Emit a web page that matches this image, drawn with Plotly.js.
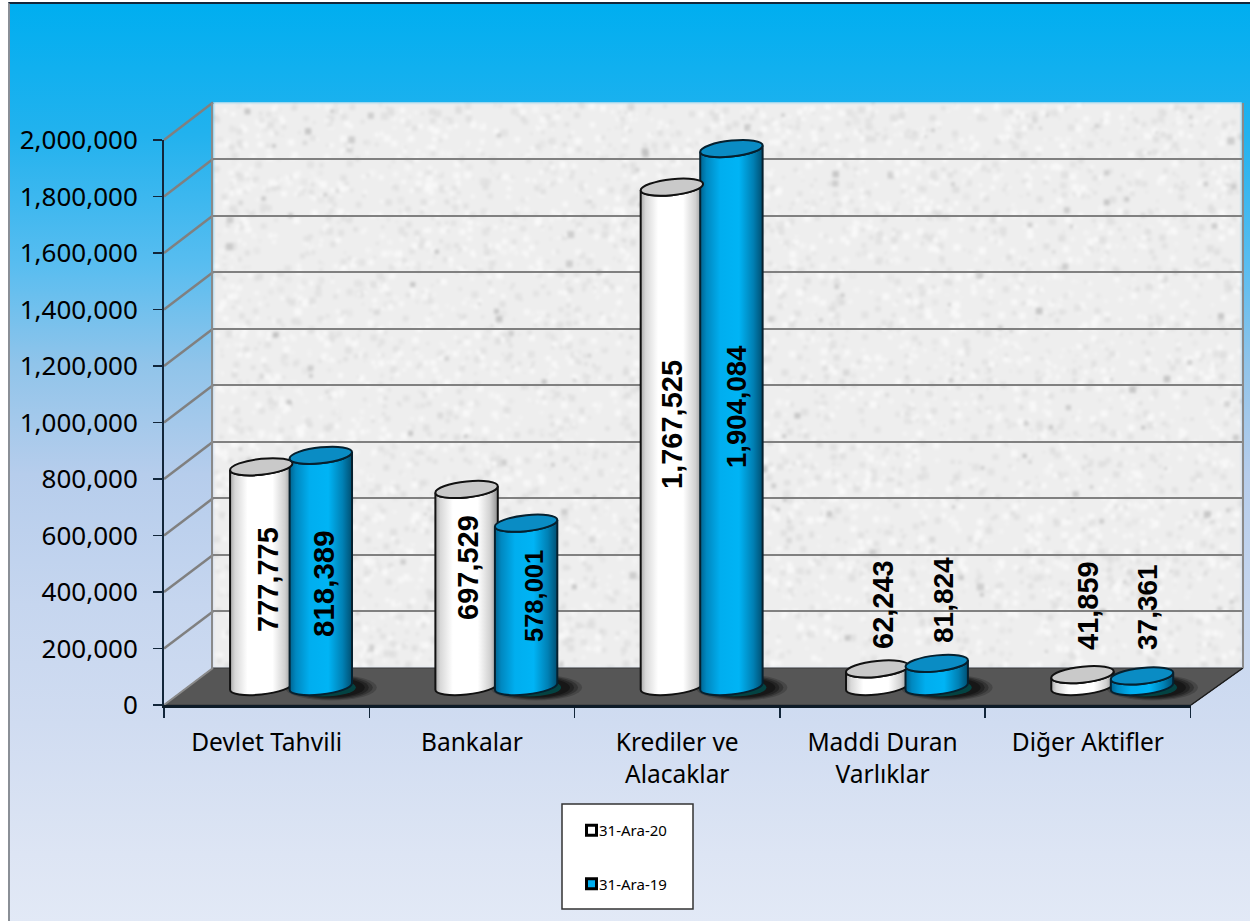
<!DOCTYPE html>
<html>
<head>
<meta charset="utf-8">
<script src="https://cdn.plot.ly/plotly-3.0.1.min.js"></script>
<style>
html,body{margin:0;padding:0;background:#fff;width:1250px;height:921px;overflow:hidden}
#frame{position:absolute;left:8px;top:2px;width:1242px;height:919px;box-sizing:border-box;border-left:2px solid #8a8f96;border-top:2px solid #12263a;
background:linear-gradient(to bottom,#00aef0 0px,#22b2ee 130px,#58bdf0 260px,#90c4ea 360px,#b6cdec 470px,#c6d6ef 600px,#d0dcf1 720px,#dde5f4 850px,#e2e9f6 919px)}
#chart{position:absolute;left:0;top:0;width:1250px;height:921px}
</style>
</head>
<body>
<div id="frame"></div>
<div id="chart"></div>
<script>
// ---- data ----
const categories = ['Devlet Tahvili','Bankalar','Krediler ve<br>Alacaklar','Maddi Duran<br>Varlıklar','Diğer Aktifler'];
const seriesNames = ['31-Ara-20','31-Ara-19'];
const values2020 = [777775,697529,1767525,62243,41859];
const values2019 = [818389,578001,1904084,81824,37361];
// label centres on the page (px), same order as the values; and label font sizes
const labelX2020 = [268,468,672,883,1088];
const labelY2020 = [580,568,425,605,606];
const labelSize2020 = [29,29,29,29,29];
const labelX2019 = [323,534,736,943,1147];
const labelY2019 = [584,596,407,600,607];
const labelSize2019 = [29.5,25.5,27.5,28,28];

const W=1250,H=921;
const px=x=>x/W, py=y=>1-y/H;
const UNIT=565/2000000;            // px per value unit
const dv=p=>p/UNIT;                // px -> value units
const CAT=205.3;                   // px per category
const dc=p=>p/CAT;                 // px -> category units
const BARW=0.304;                  // bar width in category units (the pair overlaps slightly)
const OFF20=-0.297, OFF19=-0.007;  // bar left edge relative to the category centre
const C20=OFF20+BARW/2, C19=OFF19+BARW/2;
const TILT=3.2, MINOR=8;
const BELOW=20;                    // px of room under the bars' baseline for their round bottoms

const fontAxis='"Noto Sans", sans-serif';
const fontLabel='"Liberation Sans", Arial, sans-serif';

// ---- texture for the back wall ----
function wallTexture(){
  const c=document.createElement('canvas');c.width=1029;c.height=566;
  const g=c.getContext('2d');
  g.fillStyle='#eeeeee';g.fillRect(0,0,c.width,c.height);
  let s=12345;const r=()=>{s=(s*1103515245+12345)&0x7fffffff;return s/0x7fffffff;};
  for(let i=0;i<14000;i++){
    const x=r()*c.width,y=r()*c.height,q=r();
    g.fillStyle=q<0.5?'rgba(250,250,250,0.5)':(q<0.97?'rgba(222,222,222,0.45)':'rgba(190,190,190,0.45)');
    const d=2+r()*5;
    g.fillRect(x,y,d,d);
  }
  const o=document.createElement('canvas');o.width=c.width;o.height=c.height;
  const h=o.getContext('2d');
  h.filter='blur(1.6px)';
  h.drawImage(c,0,0);
  return o.toDataURL('image/png');
}

// ---- sheared ellipse as a path in the bars' own data coordinates ----
function discPath(cx,v){
  const a=BARW/2,t=dv(TILT),b=dv(MINOR),k=0.5523;
  const P=(u,w)=>`${cx+u*a} ${v+u*t-w*b}`;   // u along major, w along minor (screen down)
  return `M ${P(-1,0)} C ${P(-1,-k)} ${P(-k,-1)} ${P(0,-1)} C ${P(k,-1)} ${P(1,-k)} ${P(1,0)} C ${P(1,k)} ${P(k,1)} ${P(0,1)} C ${P(-k,1)} ${P(-1,k)} ${P(-1,0)} Z`;
}

const shapes=[];
// floor
shapes.push({type:'path',xref:'paper',yref:'paper',layer:'below',
  path:`M ${px(164)} ${py(705)} L ${px(213)} ${py(668)} L ${px(1243)} ${py(668)} L ${px(1191)} ${py(705)} Z`,
  fillcolor:'#565656',line:{color:'#3a3a3a',width:1}});
shapes.push({type:'line',xref:'paper',yref:'paper',layer:'below',x0:px(1191),y0:py(705),x1:px(1243),y1:py(668),line:{color:'#1c1c1c',width:1.5}});
shapes.push({type:'line',xref:'paper',yref:'paper',layer:'below',x0:px(164),y0:py(705),x1:px(213),y1:py(668),line:{color:'#8a8a8a',width:2}});
// slanted side-wall lines
for(let v=200000;v<=2000000;v+=200000){
  shapes.push({type:'line',xref:'paper',yref:'paper',layer:'below',
    x0:px(164),y0:py(705-v*UNIT),x1:px(213),y1:py(668-v*565.5/2000000),line:{color:'#808080',width:2.5}});
}
// legend box
shapes.push({type:'rect',xref:'paper',yref:'paper',layer:'below',x0:px(562),x1:px(693),y0:py(804),y1:py(909),fillcolor:'#ffffff',line:{color:'#333333',width:1.5}});
// shadows on the floor, under the blue cylinders
categories.forEach((c,i)=>{
  const cx=i+C19;
  [[46,13,'rgba(0,0,0,0.18)'],[42,12,'rgba(0,0,0,0.25)'],[38,11,'rgba(0,0,0,0.3)'],[34,10,'rgba(0,0,0,0.35)'],[33,9,'rgba(0,75,75,0.85)']].forEach(([rx,ry,col],n)=>{
    const off=n===4?2:10;
    shapes.push({type:'circle',xref:'x3',yref:'y3',layer:'below',
      x0:cx+dc(off-rx),x1:cx+dc(off+rx),y0:dv(-1-ry),y1:dv(-1+ry),fillcolor:col,line:{width:0}});
  });
});
// cylinder tops
categories.forEach((c,i)=>{
  shapes.push({type:'path',xref:'x3',yref:'y3',layer:'above',path:discPath(i+C20,values2020[i]),fillcolor:'#c9c9c9',line:{color:'#111',width:2}});
  shapes.push({type:'path',xref:'x3',yref:'y3',layer:'above',path:discPath(i+C19,values2019[i]),fillcolor:'#0a8cc4',line:{color:'#06202e',width:2}});
});

// data labels
const fmt=v=>v.toLocaleString('en-US');
const annotations=[];
values2020.forEach((v,i)=>annotations.push({text:'<b>'+fmt(v)+'</b>',xref:'paper',yref:'paper',x:px(labelX2020[i]),y:py(labelY2020[i]),xanchor:'center',yanchor:'middle',textangle:-90,showarrow:false,font:{family:fontLabel,size:labelSize2020[i],color:'#000'}}));
values2019.forEach((v,i)=>annotations.push({text:'<b>'+fmt(v)+'</b>',xref:'paper',yref:'paper',x:px(labelX2019[i]),y:py(labelY2019[i]),xanchor:'center',yanchor:'middle',textangle:-90,showarrow:false,font:{family:fontLabel,size:labelSize2019[i],color:'#000'}}));

const traces=[
  // back wall subplot
  {x:[0,1],y:[0,2000000],xaxis:'x',yaxis:'y',mode:'none',type:'scatter',showlegend:false,hoverinfo:'skip'},
  // front axes subplot
  {x:categories,y:values2020,xaxis:'x2',yaxis:'y2',mode:'none',type:'scatter',showlegend:false,hoverinfo:'skip'},
  // cylinders
  {type:'bar',name:seriesNames[0],legendgroup:'a',x:categories,y:values2020,width:BARW,offset:OFF20,xaxis:'x3',yaxis:'y3',marker:{color:'#ffffff',line:{color:'#111',width:2}}},
  {type:'bar',name:seriesNames[1],legendgroup:'b',x:categories,y:values2019,width:BARW,offset:OFF19,xaxis:'x3',yaxis:'y3',marker:{color:'#00aeef',line:{color:'#06202e',width:2}}}
];

const layout={
  width:W,height:H,margin:{l:0,r:0,t:0,b:0},paper_bgcolor:'rgba(0,0,0,0)',plot_bgcolor:'rgba(0,0,0,0)',
  barmode:'group',
  font:{family:fontAxis,color:'#000'},
  xaxis:{domain:[px(213),px(1242)],range:[0,1],anchor:'y',showgrid:false,zeroline:false,showticklabels:false,ticks:''},
  yaxis:{domain:[py(668),py(102.5)],range:[0,2000000],anchor:'x',dtick:200000,showgrid:true,gridcolor:'#808080',gridwidth:2,zeroline:false,
    showticklabels:false,ticks:'',showline:true,mirror:true,linecolor:'#8a8a8a',linewidth:2},
  xaxis2:{domain:[px(164),px(1190.5)],anchor:'y2',type:'category',range:[-0.5,4.5],tickson:'boundaries',ticks:'outside',ticklen:10,tickwidth:1.5,tickcolor:'#12263a',
    showline:true,linecolor:'#0d1b28',linewidth:2.5,showgrid:false,zeroline:false,tickangle:0,ticklabelstandoff:14,tickfont:{family:fontAxis,size:24.5,color:'#000'}},
  yaxis2:{domain:[py(705),py(140)],range:[0,2000000],anchor:'x2',dtick:200000,tickformat:',d',ticks:'outside',ticklen:9,tickwidth:1.5,tickcolor:'#12263a',
    showline:true,linecolor:'#12263a',linewidth:2,showgrid:false,zeroline:false,ticklabelstandoff:10,tickfont:{family:fontAxis,size:26,color:'#000'}},
  xaxis3:{domain:[px(188.4),px(1214.9)],anchor:'y3',type:'category',range:[-0.5,4.5],visible:false},
  yaxis3:{domain:[py(686.5+BELOW),py(121.5)],range:[-dv(BELOW),2000000],anchor:'x3',visible:false},
  legend:{x:px(571.5),y:py(814),xanchor:'left',yanchor:'top',bgcolor:'rgba(0,0,0,0)',borderwidth:0,tracegroupgap:31,font:{family:fontAxis,size:15,color:'#000'}},
  images:[{source:wallTexture(),xref:'paper',yref:'paper',x:px(213),y:py(102),sizex:1029/W,sizey:566/H,sizing:'stretch',layer:'below',xanchor:'left',yanchor:'top'}],
  shapes:shapes,annotations:annotations
};

Plotly.newPlot('chart',traces,layout,{staticPlot:true,displayModeBar:false}).then(gd=>{
  const NS='http://www.w3.org/2000/svg';
  const svg=gd.querySelector('svg.main-svg');
  const defs=document.createElementNS(NS,'defs');
  const addGrad=(id,stops)=>{
    const g=document.createElementNS(NS,'linearGradient');
    g.setAttribute('id',id);g.setAttribute('x1','0');g.setAttribute('x2','1');g.setAttribute('y1','0');g.setAttribute('y2','0');
    stops.forEach(([o,c])=>{const s=document.createElementNS(NS,'stop');s.setAttribute('offset',o);s.setAttribute('stop-color',c);g.appendChild(s);});
    defs.appendChild(g);
  };
  addGrad('cylW',[[0,'#a8a8a8'],[0.08,'#d8d8d8'],[0.28,'#ffffff'],[0.68,'#ffffff'],[0.88,'#d0d0d0'],[1,'#909090']]);
  addGrad('cylB',[[0,'#00638f'],[0.1,'#0088c0'],[0.32,'#00aeef'],[0.62,'#00b4f5'],[0.85,'#0080b4'],[1,'#004f72']]);
  svg.insertBefore(defs,svg.firstChild);
  // give each bar the outline of a cylinder side
  const groups=gd.querySelectorAll('.barlayer .trace.bars');
  groups.forEach((tr,ti)=>{
    tr.querySelectorAll('.point path').forEach(p=>{
      const n=(p.getAttribute('d')||'').match(/-?\d+(\.\d+)?/g);
      if(!n||n.length<4)return;
      const x0=+n[0],yb=+n[1],yt=+n[2],x1=+n[3];
      const t=TILT,b=MINOR,k=0.5523,a=(x1-x0)/2,cx=(x0+x1)/2;
      const Pb=(u,w)=>`${cx+u*a},${yb-u*t+w*b}`;
      const Pt=(u,w)=>`${cx+u*a},${yt-u*t+w*b}`;
      const d=`M${Pt(-1,0)}L${Pb(-1,0)}C${Pb(-1,k)} ${Pb(-k,1)} ${Pb(0,1)}C${Pb(k,1)} ${Pb(1,k)} ${Pb(1,0)}L${Pt(1,0)}C${Pt(1,k)} ${Pt(k,1)} ${Pt(0,1)}C${Pt(-k,1)} ${Pt(-1,k)} ${Pt(-1,0)}Z`;
      p.setAttribute('d',d);
      p.style.fill='url(#'+(ti===0?'cylW':'cylB')+')';
    });
  });
  // tighten the legend: heavy swatch border and text right beside it
  gd.querySelectorAll('.legend .legendtoggle').forEach(e=>e.remove());
  gd.querySelectorAll('.legend .legendtext').forEach(t=>{t.setAttribute('x','27.5');});
  gd.querySelectorAll('.legend .legendpoints path').forEach(p=>{p.style.strokeWidth='3px';p.style.stroke='#000';p.setAttribute('d','M5,5H-5V-5H5Z');});
});
</script>
</body>
</html>
